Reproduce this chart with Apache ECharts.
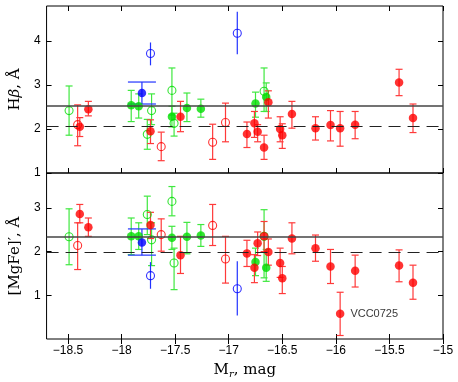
<!DOCTYPE html>
<html>
<head>
<meta charset="utf-8">
<script src="https://cdn.jsdelivr.net/npm/echarts@6/dist/echarts.min.js"></script>
<style>
  html, body { margin: 0; padding: 0; background: #fff; }
  #main { width: 458px; height: 382px; }
</style>
</head>
<body>
<div id="main"></div>
<script>
// ---- data ----
const xTicks = [-18.5, -18, -17.5, -17, -16.5, -16, -15.5, -15];
const hbTicks = [1, 2, 3, 4];
const mgTicks = [1, 2, 3];

// red filled
const redFX = [-18.39, -18.31, -17.73, -17.45, -16.83, -16.76, -16.73, -16.67, -16.63, -16.52, -16.50, -16.41, -16.19, -16.05, -15.96, -15.82, -15.41, -15.28];
const redFHb = [2.05, 2.45, 1.95, 2.28, 1.89, 2.13, 1.94, 1.58, 2.61, 2.00, 1.86, 2.34, 2.02, 2.09, 2.02, 2.10, 3.06, 2.25];
const redFHbLo = [1.83, 2.30, 1.67, 1.94, 1.58, 1.81, 1.71, 1.31, 2.25, 1.71, 1.56, 2.02, 1.75, 1.73, 1.61, 1.78, 2.76, 1.92];
const redFHbHi = [2.26, 2.63, 2.21, 2.63, 2.16, 2.40, 2.10, 1.86, 2.87, 2.28, 2.12, 2.63, 2.28, 2.42, 2.40, 2.40, 3.36, 2.57];
const redFMg = [2.86, 2.56, 2.61, 1.92, 1.96, 1.63, 2.19, 2.35, 1.99, 1.74, 1.39, 2.30, 2.08, 1.66, 0.58, 1.56, 1.68, 1.29];
const redFMgLo = [2.66, 2.35, 2.30, 1.50, 1.66, 1.29, 1.91, 2.00, 1.69, 1.41, 1.04, 1.95, 1.78, 1.27, 0.08, 1.19, 1.31, 0.91];
const redFMgHi = [3.08, 2.77, 2.90, 2.35, 2.26, 1.93, 2.45, 2.69, 2.29, 2.08, 1.66, 2.66, 2.38, 2.05, 1.07, 1.92, 2.04, 1.69];
const namedGalaxy = 'VCC0725';
const namedIdx = 14;

// red open
const redOX = [-18.41, -17.63, -17.15, -17.03];
const redOHb = [2.10, 1.60, 1.70, 2.15];
const redOHbLo = [1.62, 1.28, 1.31, 1.71];
const redOHbHi = [2.55, 1.93, 2.11, 2.59];
const redOMg = [2.14, 2.39, 2.60, 1.83];
const redOMgLo = [1.59, 2.01, 2.14, 1.28];
const redOMgHi = [2.66, 2.75, 3.08, 2.35];

// green filled
const grnFX = [-17.91, -17.84, -17.53, -17.39, -17.26, -16.75, -16.65];
const grnFHb = [2.54, 2.52, 2.28, 2.48, 2.46, 2.58, 2.73];
const grnFHbLo = [2.17, 2.25, 2.05, 2.17, 2.27, 2.27, 2.40];
const grnFHbHi = [2.88, 2.80, 2.52, 2.82, 2.68, 2.84, 3.05];
const grnFMg = [2.35, 2.35, 2.32, 2.34, 2.37, 1.76, 1.63];
const grnFMgLo = [1.93, 2.05, 2.05, 1.95, 2.12, 1.45, 1.32];
const grnFMgHi = [2.77, 2.66, 2.58, 2.67, 2.62, 2.08, 2.05];

// green open
const grnOX = [-18.49, -17.76, -17.72, -17.53, -17.51, -16.67];
const grnOHb = [2.42, 1.88, 2.42, 2.88, 2.13, 2.86];
const grnOHbLo = [1.86, 1.54, 2.10, 2.32, 1.84, 2.40];
const grnOHbHi = [2.98, 2.22, 2.80, 3.39, 2.36, 3.39];
const grnOMg = [2.34, 2.85, 2.27, 3.15, 1.74, 2.35];
const grnOMgLo = [1.70, 2.39, 1.68, 2.82, 1.13, 1.40];
const grnOMgHi = [2.98, 3.27, 2.66, 3.49, 2.08, 2.96];

// blue filled
const bluFX = [-17.81];
const bluFHb = [2.82], bluFHbLo = [2.57], bluFHbHi = [3.07];
const bluFMg = [2.21], bluFMgLo = [1.92], bluFMgHi = [2.52];

// blue open
const bluOX = [-17.73, -16.92];
const bluOHb = [3.72, 4.18], bluOHbLo = [3.45, 3.70], bluOHbHi = [3.97, 4.67];
const bluOMg = [1.45, 1.15], bluOMgLo = [1.15, 0.54], bluOMgHi = [1.76, 1.78];

// reference levels
const hbSolid = 2.53, hbDash = 2.06;
const mgSolid = 2.33, mgDash = 1.99;

// ---- chart ----
const RED = '#ff0000', GRN = '#00dd00', BLU = '#0000ff';
const RED_ERR = '#ff3a3a', GRN_ERR = '#3fe83f', BLU_ERR = '#2233ff';
const tickFont = { fontFamily: 'Liberation Sans', fontSize: 12, color: '#000' };
const serif = 'DejaVu Serif';
const minus = v => String(v).replace('-', '\u2212');

function errSeries(xs, lo, hi, color, cap, panel) {
    return {
        type: 'custom',
        xAxisIndex: panel * 2,
        yAxisIndex: panel * 2,
        silent: true,
        data: xs.map((x, i) => [x, lo[i], hi[i]]),
        encode: { x: 0, y: [1, 2] },
        renderItem: function (params, api) {
            let a = api.coord([api.value(0), api.value(1)]);
            let b = api.coord([api.value(0), api.value(2)]);
            let st = { stroke: color, lineWidth: 1.2 };
            let kids = [{ type: 'line', shape: { x1: a[0], y1: a[1], x2: b[0], y2: b[1] }, style: st }];
            if (cap) {
                kids.push({ type: 'line', shape: { x1: a[0] - cap, y1: a[1], x2: a[0] + cap, y2: a[1] }, style: st });
                kids.push({ type: 'line', shape: { x1: b[0] - cap, y1: b[1], x2: b[0] + cap, y2: b[1] }, style: st });
            }
            return { type: 'group', children: kids };
        }
    };
}

function dotSeries(xs, ys, color, open, panel, extra) {
    let s = {
        type: 'scatter',
        xAxisIndex: panel * 2,
        yAxisIndex: panel * 2,
        symbol: 'circle',
        symbolSize: open ? 8 : 8.5,
        itemStyle: open ? { color: 'rgba(255,255,255,0)', borderColor: color, borderWidth: 1.1 } : { color: color },
        data: xs.map((x, i) => [x, ys[i]])
    };
    return Object.assign(s, extra || {});
}

function refLines(solid, dash) {
    return {
        symbol: ['none', 'none'],
        silent: true,
        label: { show: false },
        data: [
            { yAxis: solid, lineStyle: { color: '#444', width: 1.6, type: 'solid' } },
            { yAxis: dash, lineStyle: { color: '#222', width: 1.2, type: [12, 7] } }
        ]
    };
}

function xAx(grid, pos, labels) {
    return {
        type: 'value', gridIndex: grid, position: pos, min: -18.7, max: -15,
        axisLine: { show: false },
        splitLine: { show: false },
        axisTick: { inside: true, length: 5, customValues: xTicks, lineStyle: { color: '#000' } },
        axisLabel: labels ? Object.assign({ show: true, customValues: xTicks, margin: 6, formatter: minus }, tickFont) : { show: false }
    };
}

function yAx(grid, pos, min, max, ticks, labels) {
    return {
        type: 'value', gridIndex: grid, position: pos, min: min, max: max,
        axisLine: { show: false },
        splitLine: { show: false },
        axisTick: { inside: true, length: 5, customValues: ticks, lineStyle: { color: '#000' } },
        axisLabel: labels ? Object.assign({ show: true, customValues: ticks, margin: 6 }, tickFont) : { show: false }
    };
}

let xAxes = [xAx(0, 'bottom', false), xAx(0, 'top', false), xAx(1, 'bottom', true), xAx(1, 'top', false)];
xAxes[2].name = '{a|M}{s|r}{a|, mag}';
xAxes[2].nameLocation = 'middle';
xAxes[2].nameGap = 22;
xAxes[2].nameTextStyle = {
    rich: {
        a: { fontFamily: serif, fontSize: 15, color: '#000' },
        s: { fontFamily: serif, fontSize: 10, fontStyle: 'italic', color: '#000', padding: [8, 0, 0, 0] }
    }
};

let yAxes = [yAx(0, 'left', 1, 4.8, hbTicks, true), yAx(0, 'right', 1, 4.8, hbTicks, false),
             yAx(1, 'left', 0, 3.8, mgTicks, true), yAx(1, 'right', 0, 3.8, mgTicks, false)];
yAxes[0].name = '{a|H}{b|\u03b2}{a|, \u00c5}';
yAxes[0].nameLocation = 'middle';
yAxes[0].nameGap = 22;
yAxes[0].nameTextStyle = {
    rich: {
        a: { fontFamily: serif, fontSize: 15, color: '#000' },
        b: { fontFamily: serif, fontSize: 15, fontStyle: 'italic', color: '#000' }
    }
};
yAxes[2].name = '[MgFe]\u2032, \u00c5';
yAxes[2].nameLocation = 'middle';
yAxes[2].nameGap = 22;
yAxes[2].nameTextStyle = { fontFamily: serif, fontSize: 15, color: '#000' };

let redMgData = redFX.map((x, i) => {
    if (i !== namedIdx) return [x, redFMg[i]];
    return {
        value: [x, redFMg[i]],
        label: { show: true, position: 'right', distance: 6, formatter: namedGalaxy, fontFamily: 'Liberation Sans', fontSize: 11, color: '#000' }
    };
});

let series = [
    // top panel: Hbeta
    errSeries(grnOX, grnOHbLo, grnOHbHi, GRN_ERR, 3.5, 0),
    errSeries(grnFX, grnFHbLo, grnFHbHi, GRN_ERR, 3.5, 0),
    errSeries(redOX, redOHbLo, redOHbHi, RED_ERR, 3.5, 0),
    errSeries(redFX, redFHbLo, redFHbHi, RED_ERR, 3.5, 0),
    errSeries(bluFX, bluFHbLo, bluFHbHi, BLU_ERR, 14, 0),
    errSeries(bluOX, bluOHbLo, bluOHbHi, BLU_ERR, 0, 0),
    dotSeries(grnOX, grnOHb, GRN, true, 0),
    dotSeries(grnFX, grnFHb, GRN, false, 0),
    dotSeries(redOX, redOHb, RED, true, 0),
    dotSeries(redFX, redFHb, RED, false, 0, { markLine: refLines(hbSolid, hbDash) }),
    dotSeries(bluFX, bluFHb, BLU, false, 0),
    dotSeries(bluOX, bluOHb, BLU, true, 0),
    // bottom panel: [MgFe]'
    errSeries(grnOX, grnOMgLo, grnOMgHi, GRN_ERR, 3.5, 1),
    errSeries(grnFX, grnFMgLo, grnFMgHi, GRN_ERR, 3.5, 1),
    errSeries(redOX, redOMgLo, redOMgHi, RED_ERR, 3.5, 1),
    errSeries(redFX, redFMgLo, redFMgHi, RED_ERR, 3.5, 1),
    errSeries(bluFX, bluFMgLo, bluFMgHi, BLU_ERR, 14, 1),
    errSeries(bluOX, bluOMgLo, bluOMgHi, BLU_ERR, 0, 1),
    dotSeries(grnOX, grnOMg, GRN, true, 1),
    dotSeries(grnFX, grnFMg, GRN, false, 1),
    dotSeries(redOX, redOMg, RED, true, 1),
    dotSeries(redFX, redFMg, RED, false, 1, { markLine: refLines(mgSolid, mgDash) }),
    dotSeries(bluFX, bluFMg, BLU, false, 1),
    dotSeries(bluOX, bluOMg, BLU, true, 1)
];
series[21].data = redMgData;

let chart = echarts.init(document.getElementById('main'));
chart.setOption({
    animation: false,
    backgroundColor: '#fff',
    grid: [
        { left: 46, top: 6, width: 397, height: 167, show: true, borderColor: '#000', borderWidth: 1, backgroundColor: 'transparent' },
        { left: 46, top: 173, width: 397, height: 166, show: true, borderColor: '#000', borderWidth: 1, backgroundColor: 'transparent' }
    ],
    xAxis: xAxes,
    yAxis: yAxes,
    series: series
});
</script>
</body>
</html>
